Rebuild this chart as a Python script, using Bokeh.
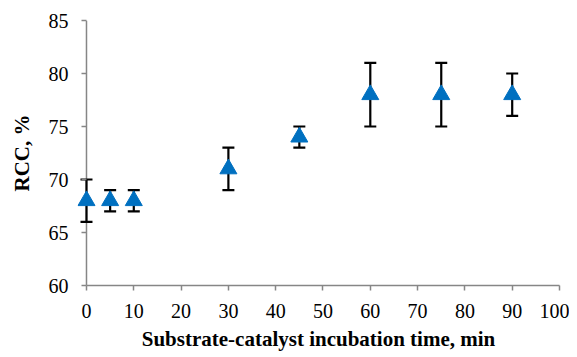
from bokeh.plotting import figure
from bokeh.models import ColumnDataSource, Whisker, TeeHead, FixedTicker, Range1d, Span
from bokeh.embed import file_html
from bokeh.resources import INLINE

times = [0, 5, 10, 30, 45, 60, 75, 90]
rcc = [68, 68, 68, 71, 74, 78, 78, 78]
err = [2, 1, 1, 2, 1, 3, 3, 2]
x_ticks = [0, 10, 20, 30, 40, 50, 60, 70, 80, 90, 100]
y_ticks = [60, 65, 70, 75, 80, 85]

src = ColumnDataSource(dict(
    x=times, y=rcc,
    lo=[v - e for v, e in zip(rcc, err)],
    hi=[v + e for v, e in zip(rcc, err)],
))

p = figure(width=569, height=357, output_backend="svg", toolbar_location=None,
           x_range=Range1d(-1.9, 100), y_range=Range1d(60, 85),
           min_border_left=77, min_border_right=10, min_border_top=20, min_border_bottom=72)
p.outline_line_color = None
p.xgrid.visible = False
p.ygrid.visible = False

# y axis line drawn at x = 0
p.add_layout(Span(location=0, dimension="height", line_color="#868686", line_width=1.5,
                  level="underlay"))

wh = Whisker(source=src, base="x", lower="lo", upper="hi", line_color="black", line_width=2.2,
             lower_head=TeeHead(size=12, line_color="black", line_width=2.2),
             upper_head=TeeHead(size=12, line_color="black", line_width=2.2))
p.add_layout(wh)
p.scatter("x", "y", source=src, marker="triangle", size=17, fill_color="#0070C0",
          line_color="#0070C0", line_width=1)

font = "Liberation Serif"
for ax in (p.xaxis[0], p.yaxis[0]):
    ax.axis_line_color = "#868686"
    ax.axis_line_width = 1.5
    ax.major_tick_line_color = "#868686"
    ax.major_tick_line_width = 1.5
    ax.major_tick_out = 5
    ax.major_tick_in = 0
    ax.minor_tick_line_color = None
    ax.major_label_text_font = font
    ax.major_label_text_font_size = "20px"
    ax.major_label_text_color = "black"
    ax.axis_label_text_font = font
    ax.axis_label_text_font_size = "21px"
    ax.axis_label_text_font_style = "bold"
    ax.axis_label_text_color = "black"

p.yaxis[0].axis_line_color = None
p.yaxis[0].major_tick_out = -4
p.yaxis[0].major_tick_in = 9
p.xaxis[0].ticker = FixedTicker(ticks=x_ticks)
p.yaxis[0].ticker = FixedTicker(ticks=y_ticks)
p.xaxis[0].bounds = (0, 100)
p.xaxis[0].axis_label = "Substrate-catalyst incubation time, min"
p.yaxis[0].axis_label = "RCC, %"
p.xaxis[0].major_label_standoff = 13
p.yaxis[0].major_label_standoff = 9
p.xaxis[0].axis_label_standoff = 6
p.yaxis[0].axis_label_standoff = 12

open("out.html", "w").write(file_html(p, INLINE))
